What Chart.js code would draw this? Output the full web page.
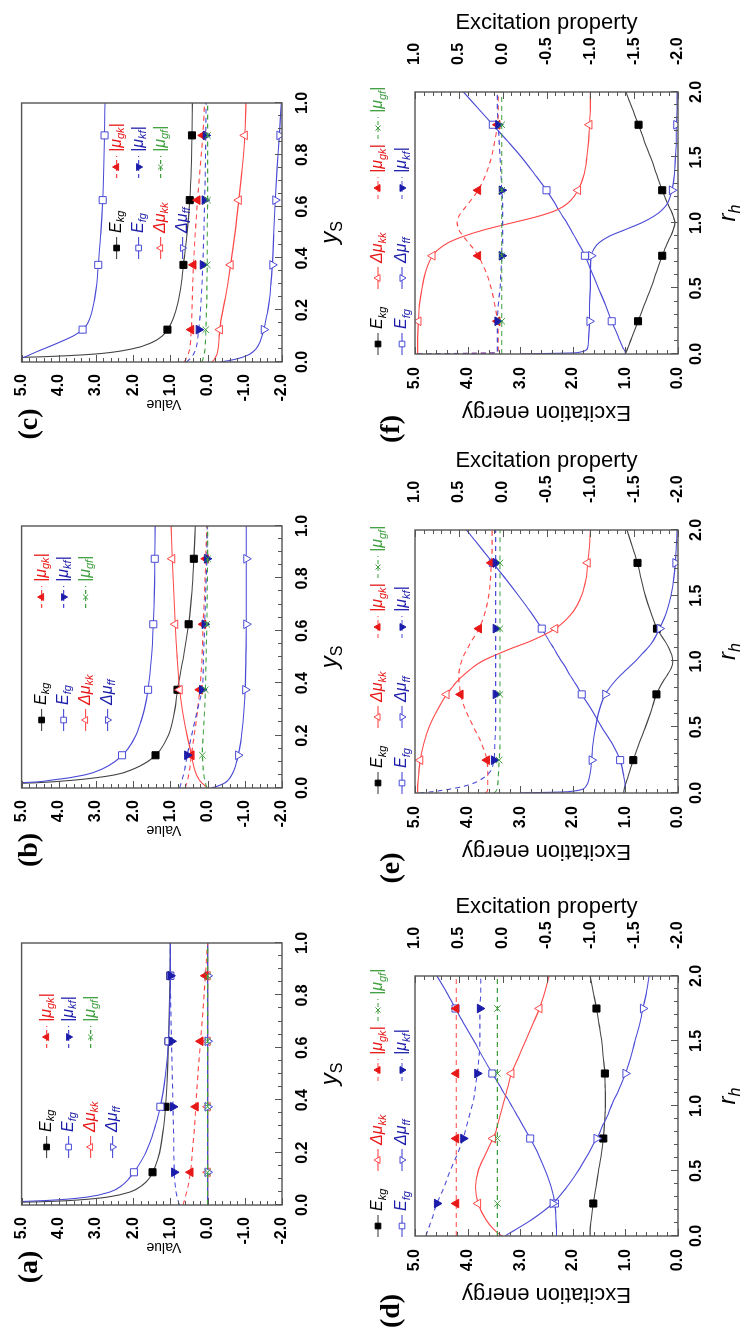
<!DOCTYPE html>
<html>
<head>
<meta charset="utf-8">
<title>Excitation energies and properties</title>
<script src="https://cdn.jsdelivr.net/npm/chart.js@4.4.1/dist/chart.umd.min.js"></script>
<style>
  html, body { margin: 0; padding: 0; background: #fff; }
  body { width: 740px; height: 1333px; overflow: hidden; position: relative; }
  /* the figure is laid out landscape and turned a quarter turn counter-clockwise */
  #sheet {
    position: absolute; left: 0; top: 0;
    width: 1333px; height: 740px;
    transform-origin: 0 0;
    transform: translate(0, 1333px) rotate(-90deg);
  }
  #sheet canvas { position: absolute; }
</style>
</head>
<body>
<div id="sheet">
  <canvas id="pa"></canvas>
  <canvas id="pb"></canvas>
  <canvas id="pc"></canvas>
  <canvas id="pd"></canvas>
  <canvas id="pe"></canvas>
  <canvas id="pf"></canvas>
</div>
<script>
// ---- data -------------------------------------------------------------

// sample points along y_S (panels a-c); symbols sit on ysMarks
const ysGrid  = [0, 0.005, 0.01, 0.015, 0.02, 0.03, 0.05, 0.075, 0.1, 0.125, 0.15, 0.2, 0.25, 0.3, 0.375, 0.5, 0.625, 0.75, 0.875, 1.0];
const ysMarks = [0.125, 0.375, 0.625, 0.875];

// sample points along r_h (panels d-f); symbols sit on rhMarks
const rhGrid  = [0, 0.01, 0.05, 0.125, 0.25, 0.375, 0.5, 0.625, 0.75, 0.8, 0.85, 0.9, 0.95, 1.0, 1.05, 1.1, 1.15, 1.25, 1.375, 1.5, 1.625, 1.75, 1.875, 2.0];
const rhMarks = [0.25, 0.75, 1.25, 1.75];

// panel (a)
const aEkg = [null, 8.0, 5.2, 4.0, 3.4, 2.7, 2.08, 1.76, 1.58, 1.48, 1.40, 1.29, 1.23, 1.18, 1.13, 1.08, 1.05, 1.03, 1.01, 1.0];
const aEfg = [null, 9.0, 6.0, 4.7, 4.0, 3.25, 2.62, 2.3, 2.12, 1.98, 1.86, 1.66, 1.52, 1.41, 1.27, 1.13, 1.05, 1.02, 1.0, 1.0];
const aDkk = [0, 0, 0, 0, 0, 0, 0, 0, 0, 0, 0, 0, 0, 0, 0, 0, 0, 0, 0, 0];
const aDff = [0, 0, 0, 0, 0, 0, 0, 0, 0, 0, 0, 0, 0, 0, 0, 0, 0, 0, 0, 0];
const aGk  = [0.66, 0.65, 0.64, 0.63, 0.62, 0.6, 0.56, 0.52, 0.49, 0.46, 0.44, 0.41, 0.38, 0.35, 0.32, 0.26, 0.19, 0.12, 0.06, 0.0];
const aKf  = [0.76, 0.77, 0.78, 0.79, 0.8, 0.82, 0.85, 0.87, 0.89, 0.9, 0.9, 0.91, 0.91, 0.92, 0.93, 0.95, 0.97, 0.99, 1.0, 1.0];
const aGf  = [0, 0, 0, 0, 0, 0, 0, 0, 0, 0, 0, 0, 0, 0, 0, 0, 0, 0, 0, 0];

// panel (b)
const bEkg = [null, 9.0, 7.0, 5.6, 4.6, 3.6, 2.5, 1.95, 1.62, 1.40, 1.25, 1.06, 0.95, 0.88, 0.81, 0.65, 0.51, 0.42, 0.37, 0.33];
const bEfg = [null, 12.0, 9.0, 7.0, 5.1, 4.2, 3.3, 2.8, 2.5, 2.3, 2.14, 1.93, 1.8, 1.7, 1.6, 1.51, 1.46, 1.43, 1.42, 1.41];
const bDkk = [0, 0.04, 0.08, 0.12, 0.16, 0.22, 0.3, 0.36, 0.40, 0.43, 0.47, 0.55, 0.62, 0.68, 0.75, 0.82, 0.87, 0.91, 0.95, 0.98];
const bDff = [-0.1, -0.22, -0.32, -0.4, -0.47, -0.55, -0.65, -0.73, -0.78, -0.82, -0.86, -0.91, -0.95, -0.98, -1.01, -1.03, -1.04, -1.04, -1.04, -1.04];
const bGk  = [0.6, 0.59, 0.58, 0.57, 0.56, 0.54, 0.51, 0.48, 0.46, 0.44, 0.41, 0.36, 0.31, 0.27, 0.21, 0.15, 0.12, 0.08, 0.05, 0.02];
const bKf  = [0.75, 0.74, 0.73, 0.72, 0.71, 0.69, 0.65, 0.61, 0.58, 0.55, 0.51, 0.43, 0.35, 0.27, 0.15, 0.11, 0.08, 0.05, 0.02, 0.01];
const bGf  = [0.02, 0.03, 0.04, 0.05, 0.06, 0.08, 0.1, 0.12, 0.13, 0.14, 0.14, 0.12, 0.1, 0.08, 0.06, 0.04, 0.02, 0.01, 0.0, 0.0];

// panel (c)
const cEkg = [null, 9.0, 7.0, 5.7, 4.5, 3.1, 2.05, 1.5, 1.22, 1.08, 0.98, 0.85, 0.77, 0.71, 0.65, 0.55, 0.48, 0.44, 0.42, 0.41];
const cEfg = [6.5, 5.4, 5.15, 5.0, 4.9, 4.75, 4.42, 4.0, 3.62, 3.36, 3.22, 3.1, 3.03, 2.98, 2.94, 2.87, 2.82, 2.79, 2.77, 2.76];
const cDkk = [-0.12, -0.15, -0.18, -0.2, -0.22, -0.25, -0.28, -0.3, -0.31, -0.33, -0.35, -0.41, -0.48, -0.54, -0.62, -0.74, -0.84, -0.93, -1.0, -1.03];
const cDff = [-0.35, -0.55, -0.72, -0.86, -0.97, -1.13, -1.3, -1.4, -1.46, -1.51, -1.55, -1.62, -1.67, -1.70, -1.74, -1.78, -1.82, -1.87, -1.93, -1.98];
const cGk  = [0.63, 0.61, 0.59, 0.57, 0.55, 0.52, 0.48, 0.46, 0.45, 0.44, 0.43, 0.42, 0.41, 0.4, 0.38, 0.33, 0.27, 0.2, 0.13, 0.08];
const cKf  = [0.57, 0.53, 0.49, 0.46, 0.43, 0.38, 0.32, 0.28, 0.26, 0.24, 0.22, 0.19, 0.17, 0.15, 0.13, 0.1, 0.08, 0.06, 0.05, 0.04];
const cGf  = [0.16, 0.14, 0.13, 0.12, 0.11, 0.09, 0.07, 0.06, 0.05, 0.05, 0.04, 0.03, 0.02, 0.02, 0.01, 0.01, 0.0, 0.0, 0.0, 0.0];

// panel (d)
const dEkg = [1.67, 1.67, 1.67, 1.65, 1.61, 1.56, 1.51, 1.46, 1.42, 1.41, 1.4, 1.39, 1.385, 1.38, 1.38, 1.38, 1.385, 1.39, 1.42, 1.45, 1.5, 1.55, 1.61, 1.67];
const dEfg = [2.31, 2.31, 2.31, 2.32, 2.34, 2.41, 2.52, 2.65, 2.81, 2.88, 2.95, 3.02, 3.09, 3.16, 3.23, 3.31, 3.38, 3.53, 3.71, 3.88, 4.06, 4.23, 4.4, 4.58];
const dDkk = [0.0, 0.03, 0.1, 0.19, 0.28, 0.31, 0.28, 0.2, 0.11, 0.08, 0.06, 0.04, 0.02, 0.0, -0.02, -0.04, -0.06, -0.1, -0.18, -0.26, -0.34, -0.42, -0.48, -0.53];
const dDff = [-0.03, -0.05, -0.15, -0.33, -0.57, -0.73, -0.86, -0.97, -1.07, -1.11, -1.14, -1.18, -1.21, -1.24, -1.27, -1.31, -1.34, -1.4, -1.46, -1.51, -1.56, -1.6, -1.64, -1.67];
const dGk  = [0.53, 0.53, 0.53, 0.53, 0.53, 0.53, 0.53, 0.53, 0.53, 0.53, 0.53, 0.53, 0.53, 0.53, 0.53, 0.53, 0.53, 0.53, 0.53, 0.53, 0.53, 0.53, 0.53, 0.53];
const dKf  = [0.87, 0.87, 0.85, 0.81, 0.75, 0.67, 0.6, 0.52, 0.45, 0.43, 0.41, 0.39, 0.37, 0.35, 0.33, 0.32, 0.31, 0.29, 0.27, 0.26, 0.26, 0.26, 0.25, 0.25];
const dGf  = [0.06, 0.06, 0.06, 0.06, 0.06, 0.06, 0.06, 0.06, 0.06, 0.06, 0.06, 0.06, 0.06, 0.06, 0.06, 0.06, 0.06, 0.06, 0.06, 0.06, 0.06, 0.06, 0.06, 0.06];

// panel (e)
const eEkg = [1.03, 1.03, 1.01, 0.95, 0.85, 0.74, 0.62, 0.51, 0.41, 0.35, 0.28, 0.2, 0.13, 0.1, 0.12, 0.17, 0.24, 0.4, 0.52, 0.62, 0.7, 0.77, 0.87, 0.97];
const eEfg = [1.0, 1.0, 1.0, 1.03, 1.1, 1.25, 1.45, 1.63, 1.83, 1.9, 1.98, 2.06, 2.13, 2.21, 2.29, 2.36, 2.44, 2.59, 2.8, 3.03, 3.27, 3.52, 3.77, 4.02];
const eDkk = [0.97, 0.97, 0.97, 0.96, 0.94, 0.9, 0.84, 0.75, 0.64, 0.58, 0.52, 0.44, 0.35, 0.24, 0.08, -0.1, -0.3, -0.6, -0.8, -0.9, -0.95, -0.97, -0.99, -1.0];
const eDff = [-0.2, -0.75, -0.95, -0.99, -1.015, -1.03, -1.06, -1.1, -1.17, -1.22, -1.28, -1.35, -1.43, -1.51, -1.58, -1.65, -1.71, -1.79, -1.87, -1.92, -1.95, -1.97, -1.98, -1.99];
const eGk  = [0.2, 0.18, 0.17, 0.17, 0.18, 0.24, 0.33, 0.42, 0.48, 0.49, 0.5, 0.5, 0.49, 0.47, 0.44, 0.4, 0.36, 0.27, 0.2, 0.16, 0.14, 0.13, 0.12, 0.12];
const eKf  = [0.95, 0.8, 0.45, 0.2, 0.1, 0.09, 0.08, 0.08, 0.08, 0.08, 0.08, 0.08, 0.08, 0.08, 0.08, 0.08, 0.08, 0.08, 0.08, 0.08, 0.08, 0.08, 0.08, 0.08];
const eGf  = [0.1, 0.08, 0.06, 0.05, 0.04, 0.03, 0.03, 0.03, 0.03, 0.03, 0.03, 0.03, 0.03, 0.03, 0.03, 0.03, 0.03, 0.03, 0.03, 0.03, 0.03, 0.03, 0.03, 0.03];

// panel (f)
const fEkg = [1.0, 0.99, 0.95, 0.88, 0.76, 0.64, 0.52, 0.41, 0.3, 0.25, 0.2, 0.14, 0.09, 0.06, 0.09, 0.14, 0.2, 0.3, 0.41, 0.52, 0.64, 0.75, 0.87, 0.99];
const fEfg = [1.0, 1.0, 1.05, 1.13, 1.26, 1.38, 1.51, 1.64, 1.77, 1.83, 1.9, 1.97, 2.04, 2.11, 2.19, 2.27, 2.34, 2.5, 2.73, 2.97, 3.24, 3.52, 3.8, 4.08];
const fDkk = [0.97, 0.97, 0.97, 0.97, 0.96, 0.95, 0.92, 0.88, 0.8, 0.73, 0.62, 0.44, 0.2, -0.1, -0.4, -0.62, -0.74, -0.86, -0.93, -0.96, -0.98, -0.99, -1.0, -1.0];
const fDff = [-0.2, -0.85, -0.97, -0.98, -0.99, -0.99, -1.0, -1.0, -1.01, -1.04, -1.1, -1.22, -1.4, -1.58, -1.72, -1.82, -1.88, -1.93, -1.96, -1.97, -1.98, -1.98, -1.99, -1.99];
const fGk  = [0.97, 0.06, 0.05, 0.05, 0.06, 0.09, 0.13, 0.19, 0.28, 0.33, 0.39, 0.45, 0.5, 0.52, 0.5, 0.45, 0.39, 0.28, 0.19, 0.13, 0.09, 0.06, 0.05, 0.05];
const fKf  = [0.97, 0.06, 0.06, 0.06, 0.06, 0.05, 0.03, 0.02, 0.01, 0.01, 0.0, 0.0, 0.0, 0.0, 0.0, 0.0, 0.0, 0.01, 0.02, 0.03, 0.04, 0.05, 0.06, 0.06];
const fGf  = [0.01, 0.01, 0.01, 0.01, 0.01, 0.01, 0.01, 0.01, 0.01, 0.01, 0.01, 0.01, 0.01, 0.01, 0.01, 0.01, 0.01, 0.01, 0.01, 0.01, 0.01, 0.01, 0.01, 0.01];

const panelTags = ['(a)', '(b)', '(c)', '(d)', '(e)', '(f)'];

// ---- styles -----------------------------------------------------------

const SANS  = '"Liberation Sans", Arial, Helvetica, sans-serif';
const SERIF = '"Liberation Serif", "Times New Roman", serif';
const INK = '#000';
const GREY = '#444';
const BLUE = '#4a4ad6';
const BLUE_DARK = '#1c1caa';
const RED = '#ff4848';
const RED_DARK = '#e81818';
const GREEN = '#3f9f3f';
const TICK_FONT = { family: SANS, size: 16, weight: 'bold' };

// one entry per curve, in legend order; parts = [text, subscript?, upright?]
const SERIES = [
  { parts: [['E'], ['kg', 1]],         line: GREY,  mark: INK,       text: INK,       point: 'rect',     r: 5,   energy: true },
  { parts: [['E'], ['fg', 1]],         line: BLUE,  mark: BLUE,      text: BLUE_DARK, point: 'rect',     r: 5,   energy: true, open: true },
  { parts: [['Δμ'], ['kk', 1]],        line: RED,   mark: RED,       text: RED_DARK,  point: 'triangle', r: 5,   open: true },
  { parts: [['Δμ'], ['ff', 1]],        line: BLUE,  mark: BLUE,      text: BLUE_DARK, point: 'triangle', r: 5,   open: true, rot: 180 },
  { parts: [['|μ'], ['gk', 1], ['|']], line: RED,   mark: RED_DARK,  text: RED_DARK,  point: 'triangle', r: 5,   dash: true },
  { parts: [['|μ'], ['kf', 1], ['|']], line: BLUE,  mark: BLUE_DARK, text: BLUE_DARK, point: 'triangle', r: 5,   dash: true, rot: 180 },
  { parts: [['|μ'], ['gf', 1], ['|']], line: GREEN, mark: GREEN,     text: GREEN,     point: 'crossRot', r: 4.5, dash: true }
];

// ---- drawing helpers --------------------------------------------------

function richText(ctx, parts, x, y, size, color, align) {
  const fontOf = p => (p[2] ? '' : 'italic ') + Math.round(p[1] ? size * 0.68 : size) + 'px ' + SANS;
  let w = 0;
  for (const p of parts) { ctx.font = fontOf(p); w += ctx.measureText(p[0]).width; }
  let cx = align === 'center' ? x - w / 2 : x;
  ctx.save();
  ctx.fillStyle = color;
  ctx.textAlign = 'left';
  ctx.textBaseline = 'middle';
  for (const p of parts) {
    ctx.font = fontOf(p);
    ctx.fillText(p[0], cx, p[1] ? y + size * 0.3 : y);
    cx += ctx.measureText(p[0]).width;
  }
  ctx.restore();
}

function legendKey(ctx, s, x, y) {
  ctx.save();
  ctx.strokeStyle = s.line;
  ctx.lineWidth = 1.1;
  ctx.setLineDash(s.dash ? [4, 3] : []);
  ctx.beginPath();
  ctx.moveTo(x - 11, y);
  ctx.lineTo(x + 11, y);
  ctx.stroke();
  ctx.setLineDash([]);
  ctx.fillStyle = s.open ? '#fff' : s.mark;
  ctx.strokeStyle = s.mark;
  ctx.lineWidth = 1;
  Chart.helpers.drawPoint(ctx, { pointStyle: s.point, rotation: s.rot || 0, radius: s.r * 0.8, borderWidth: 1 }, x, y);
  ctx.restore();
  richText(ctx, s.parts, x + 15, y, 16, s.text, 'left');
}

// per-canvas decoration settings, filled in when each panel is built
const DECOR = {};

// frame, inward tick marks, keys, axis names and panel tags
const decor = {
  id: 'decor',
  afterDatasetsDraw(chart) {
    const o = DECOR[chart.canvas.id];
    const { ctx, chartArea: a } = chart;
    ctx.save();
    ctx.strokeStyle = '#555';
    ctx.lineWidth = 1;
    for (const t of o.ticks) {
      const s = chart.scales[t.axis];
      const n = Math.round((s.max - s.min) / t.minor);
      for (let i = 0; i <= n; i++) {
        const v = s.min + i * t.minor;
        const q = v / t.major;
        const len = Math.abs(q - Math.round(q)) < 1e-6 ? 7 : 4;
        const p = Math.round(s.getPixelForValue(v)) + 0.5;
        ctx.beginPath();
        if (t.edge === 'left') { ctx.moveTo(a.left, p); ctx.lineTo(a.left + len, p); }
        else if (t.edge === 'right') { ctx.moveTo(a.right, p); ctx.lineTo(a.right - len, p); }
        else { ctx.moveTo(p, a.bottom); ctx.lineTo(p, a.bottom - len); }
        ctx.stroke();
      }
    }
    ctx.lineWidth = 1.4;
    ctx.strokeRect(a.left, a.top, a.right - a.left, a.bottom - a.top);
    ctx.restore();
  },
  afterDraw(chart) {
    const o = DECOR[chart.canvas.id];
    const { ctx, chartArea: a } = chart;
    for (const k of o.keys) legendKey(ctx, SERIES[k[0]], a.left + k[1], a.top + k[2]);
    richText(ctx, o.axisName, (a.left + a.right) / 2 + o.axisAt[0], a.bottom + o.axisAt[1], 24, INK, 'center');
    ctx.save();
    ctx.fillStyle = INK;
    ctx.textAlign = 'center';
    ctx.textBaseline = 'middle';
    if (o.side) {
      // vertical name of the value axis, sitting a little below the middle of the frame
      ctx.save();
      ctx.translate(a.left + o.side.at[0], (a.top + a.bottom) / 2 + o.side.at[1]);
      ctx.rotate(-Math.PI / 2);
      ctx.font = '14px ' + SANS;
      ctx.fillText(o.side.text, 0, 0);
      ctx.restore();
    }
    ctx.font = 'bold 28px ' + SERIF;
    ctx.fillText(o.tag, a.left + o.tagAt[0], a.top + o.tagAt[1]);
    ctx.restore();
  }
};

// later curves in the legend are painted over earlier ones
function lineSets(grid, marks, cols, eAxis, pAxis) {
  return SERIES.map((s, k) => ({
    data: grid.map((x, j) => ({ x: x, y: cols[k][j] })),
    order: SERIES.length - k,
    yAxisID: s.energy ? eAxis : pAxis,
    borderColor: s.line,
    borderWidth: 1.1,
    borderDash: s.dash ? [5, 4] : [],
    cubicInterpolationMode: 'monotone',
    fill: false,
    pointStyle: s.point,
    pointRotation: s.rot || 0,
    pointBackgroundColor: s.open ? '#fff' : s.mark,
    pointBorderColor: s.mark,
    pointBorderWidth: 1,
    pointRadius: c => (c.raw && marks.includes(c.raw.x)) ? s.r : 0,
    pointHoverRadius: 0
  }));
}

function placeCanvas(id, r) {
  const cv = document.getElementById(id);
  cv.width = r[2];
  cv.height = r[3];
  cv.style.left = r[0] + 'px';
  cv.style.top = r[1] + 'px';
  cv.style.width = r[2] + 'px';
  cv.style.height = r[3] + 'px';
  return cv;
}

const bare = { grid: { display: false, drawTicks: false }, border: { display: false } };
const fix1 = v => Number(v).toFixed(1);

// ---- panels (a)-(c): value against y_S ---------------------------------

const topPanels = [
  { id: 'pa', canvas: [0, 0, 444, 360],   box: [128, 20, 390, 282],  keys: [58, 168, 25], cols: [aEkg, aEfg, aDkk, aDff, aGk, aKf, aGf] },
  { id: 'pb', canvas: [444, 0, 444, 360], box: [545, 20, 807, 282],  keys: [68, 191, 20], cols: [bEkg, bEfg, bDkk, bDff, bGk, bKf, bGf] },
  { id: 'pc', canvas: [888, 0, 445, 360], box: [971, 20, 1230, 282], keys: [114, 195, 95], cols: [cEkg, cEfg, cDkk, cDff, cGk, cKf, cGf] }
];

topPanels.forEach((p, i) => {
  const [cx, cy, cw, ch] = p.canvas;
  const [bl, bt, br, bb] = p.box;
  const cv = placeCanvas(p.id, p.canvas);
  const [c1, c2, y0] = p.keys;
  DECOR[p.id] = {
    tag: panelTags[i], tagAt: [-62, 8],
    side: { text: 'Value', at: [-42, 12] },
    axisName: [['y'], ['S', 1, 1]], axisAt: [0, 48],
    keys: [[0, c1, y0], [1, c1, y0 + 22], [2, c1, y0 + 44], [3, c1, y0 + 66],
           [4, c2, y0], [5, c2, y0 + 22], [6, c2, y0 + 44]],
    ticks: [{ axis: 'y', edge: 'left', major: 1, minor: 0.2 },
            { axis: 'x', edge: 'bottom', major: 0.2, minor: 0.05 }]
  };
  new Chart(cv, {
    type: 'line',
    data: { datasets: lineSets(ysGrid, ysMarks, p.cols, 'y', 'y') },
    options: {
      responsive: false, animation: false, devicePixelRatio: 1,
      layout: { padding: { left: 0, top: bt - cy, right: cx + cw - br, bottom: 0 } },
      plugins: { legend: { display: false }, tooltip: { enabled: false } },
      scales: {
        x: Object.assign({
          type: 'linear', position: 'bottom', min: 0, max: 1,
          ticks: { stepSize: 0.2, padding: 11, maxRotation: 0, autoSkip: false, font: TICK_FONT, color: INK, callback: fix1 },
          afterFit: s => { s.height = cy + ch - bb; }
        }, bare),
        y: Object.assign({
          type: 'linear', position: 'left', min: -2, max: 5,
          ticks: { stepSize: 1, padding: 12, autoSkip: false, font: TICK_FONT, color: INK, callback: fix1 },
          afterFit: s => { s.width = bl - cx; }
        }, bare)
      }
    },
    plugins: [decor]
  });
});

// ---- panels (d)-(f): energies and properties against r_h ---------------

const lowPanels = [
  { id: 'pd', canvas: [0, 360, 444, 380],   box: [97, 415, 357, 678],   cols: [dEkg, dEfg, dDkk, dDff, dGk, dKf, dGf] },
  { id: 'pe', canvas: [444, 360, 444, 380], box: [540, 415, 803, 678],  cols: [eEkg, eEfg, eDkk, eDff, eGk, eKf, eGf] },
  { id: 'pf', canvas: [888, 360, 445, 380], box: [979, 415, 1241, 678], cols: [fEkg, fEfg, fDkk, fDff, fGk, fKf, fGf] }
];

lowPanels.forEach((p, i) => {
  const [cx, cy, cw, ch] = p.canvas;
  const [bl, bt, br, bb] = p.box;
  const cv = placeCanvas(p.id, p.canvas);
  DECOR[p.id] = {
    tag: panelTags[i + 3], tagAt: [-75, -23],
    axisName: [['r'], ['h', 1]], axisAt: [10, 50],
    keys: [[0, 10, -37], [2, 76, -37], [4, 166, -37], [6, 226, -37],
           [1, 10, -13], [3, 76, -13], [5, 166, -13]],
    ticks: [{ axis: 'yE', edge: 'left', major: 1, minor: 0.2 },
            { axis: 'yP', edge: 'right', major: 0.5, minor: 0.1 },
            { axis: 'x', edge: 'bottom', major: 0.5, minor: 0.1 }]
  };
  new Chart(cv, {
    type: 'line',
    data: { datasets: lineSets(rhGrid, rhMarks, p.cols, 'yE', 'yP') },
    options: {
      responsive: false, animation: false, devicePixelRatio: 1,
      layout: { padding: { left: 0, top: bt - cy, right: 0, bottom: 0 } },
      plugins: { legend: { display: false }, tooltip: { enabled: false } },
      scales: {
        x: Object.assign({
          type: 'linear', position: 'bottom', min: 0, max: 2,
          ticks: { stepSize: 0.5, padding: 9, maxRotation: 0, autoSkip: false, font: TICK_FONT, color: INK, callback: fix1 },
          afterFit: s => { s.height = cy + ch - bb; }
        }, bare),
        yE: Object.assign({
          type: 'linear', position: 'left', min: 0, max: 5,
          ticks: { stepSize: 1, padding: 13, autoSkip: false, font: TICK_FONT, color: INK, callback: fix1 },
          title: { display: true, text: 'Excitation energy', color: INK, font: { family: SANS, size: 22 },
                   padding: { top: (bl - 58 - cx) - 13.2, bottom: 0 } },
          afterFit: s => { s.width = bl - cx; }
        }, bare),
        yP: Object.assign({
          type: 'linear', position: 'right', min: -2, max: 1,
          ticks: { stepSize: 0.5, padding: 27, autoSkip: false, font: TICK_FONT, color: INK, callback: fix1 },
          title: { display: true, text: 'Excitation property', color: INK, font: { family: SANS, size: 22 },
                   padding: { top: (cx + cw) - (br + 69) - 13.2, bottom: 0 } },
          afterFit: s => { s.width = cx + cw - br; }
        }, bare)
      }
    },
    plugins: [decor]
  });
});
</script>
</body>
</html>
